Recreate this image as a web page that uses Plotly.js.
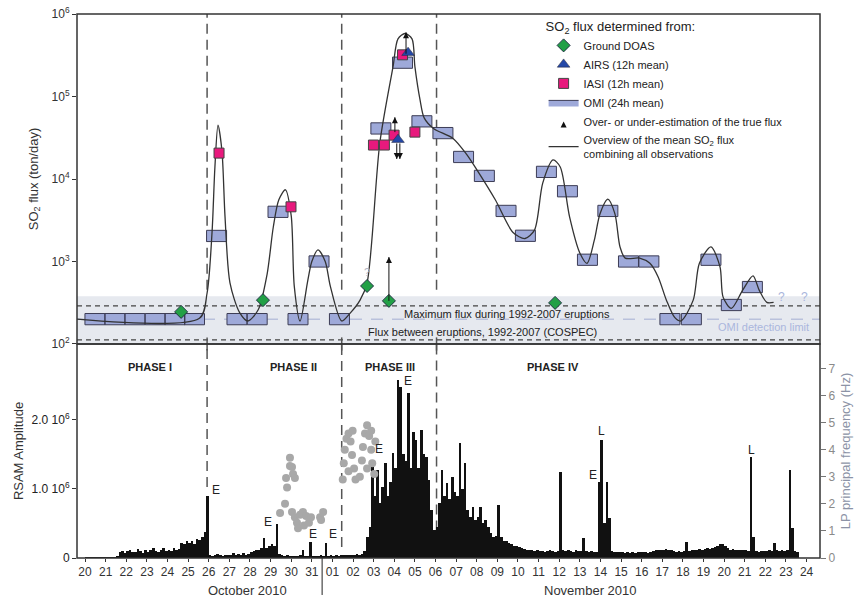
<!DOCTYPE html>
<html><head><meta charset="utf-8">
<script src="https://cdn.plot.ly/plotly-3.0.1.min.js"></script>
<style>html,body{margin:0;padding:0;background:#fff}#chart{width:865px;height:597px}</style>
</head><body><div id="chart"></div>
<script>
// ---------- x axis (days from 20 Oct 2010) ----------
const dayLabels = ['20','21','22','23','24','25','26','27','28','29','30','31',
  '01','02','03','04','05','06','07','08','09','10','11','12','13','14','15','16','17','18','19','20','21','22','23','24'];

// ---------- top panel: SO2 flux (ton/day) ----------
const omiX = [0.48,1.45,2.42,3.4,4.36,5.31,6.38,7.37,8.35,9.36,10.33,11.35,12.34,14.35,15.4,16.34,17.36,18.36,19.37,20.42,21.36,22.38,23.4,24.37,25.36,26.36,27.35,28.37,29.41,30.36,31.35,32.37];
const omiV = [200,200,200,200,200,200,2040,200,200,4000,200,1000,200,41000,257000,50000,36000,18500,10900,4100,2050,12200,7100,1050,4100,1000,1000,200,200,1050,297,490];
const iasiX = [6.5,9.99,13.99,14.52,14.99,16.0,15.4];
const iasiV = [20600,4600,25800,25800,34000,37000,320000];
const airsX = [15.18,15.67];
const airsV = [30000,340000];
const doasX = [4.66,8.63,13.68,14.74,22.8];
const doasV = [245,340,505,333,315];
const curveX = [-0.39,5.55,5.92,6.16,6.3,6.45,6.64,6.79,7.03,7.5,7.9,8.4,8.83,9.13,9.4,9.72,10.0,10.15,10.43,10.81,11.0,11.3,11.65,11.9,12.45,12.85,13.34,13.68,14.3,14.94,15.18,15.52,15.86,16.0,16.25,16.45,16.9,17.85,18.5,19.0,19.9,20.76,21.34,21.8,22.2,22.7,23.05,23.5,24.0,24.35,24.7,24.98,25.36,25.7,25.95,26.2,26.9,27.4,27.8,28.2,28.6,28.9,29.5,29.8,30.36,30.8,30.95,31.35,31.9,32.4,32.7,33.07,33.4];
const curveV = [200,205,415,2250,14000,45000,22000,3500,550,240,190,260,700,2600,5600,7400,3600,500,190,600,1000,1380,1000,500,190,235,340,550,27500,230000,500000,580000,500000,230000,91000,55000,41000,31000,20000,13000,5600,2250,1900,2400,8900,17000,14000,3500,1270,950,1800,3800,5700,3800,1500,1100,1100,950,650,340,210,190,340,950,1500,860,370,270,450,670,450,320,320];
const arrowX = [14.74,15.57,15.03,15.12,15.27];
const arrowFrom = [333,330000,37000,27000,27000];
const arrowTo = [1130,600000,56000,17500,17500];
const maxEruptFlux = 290, interEruptFlux = 112, omiLimit = 200, bandTop = 380, bandBottom = 100;

// ---------- bottom panel ----------
// RSAM amplitude (units of 10^6), 8 samples per day from 20 Oct
const rsam = [
 0.02,0.02,0.02,0.02,0.02,0.02,0.02,0.02,
 0.02,0.02,0.02,0.02,0.03,0.08,0.10,0.07,
 0.10,0.12,0.08,0.09,0.13,0.10,0.07,0.11,
 0.09,0.12,0.14,0.10,0.08,0.12,0.15,0.10,
 0.12,0.10,0.14,0.11,0.13,0.22,0.20,0.24,
 0.22,0.25,0.20,0.27,0.26,0.30,0.38,0.90,
 0.05,0.03,0.04,0.06,0.04,0.03,0.05,0.04,
 0.05,0.07,0.04,0.06,0.05,0.07,0.05,0.06,
 0.08,0.10,0.12,0.11,0.14,0.29,0.15,0.18,
 0.20,0.17,0.49,0.06,0.04,0.03,0.04,0.03,
 0.03,0.03,0.03,0.04,0.12,0.03,0.03,0.23,
 0.03,0.03,0.03,0.04,0.03,0.22,0.03,0.04,
 0.03,0.04,0.03,0.04,0.05,0.04,0.04,0.05,
 0.05,0.06,0.05,0.06,0.10,0.30,0.45,1.39,
 0.90,1.27,0.80,1.03,1.38,0.90,1.10,1.52,
 1.30,2.58,2.48,1.50,1.40,2.39,1.30,1.83,
 1.71,1.30,1.86,1.50,1.46,1.13,0.70,0.40,
 0.45,0.80,1.27,0.90,1.09,0.85,1.17,0.95,
 0.90,1.67,1.00,1.38,0.70,0.60,0.74,0.55,
 0.60,0.74,0.50,0.55,0.45,0.36,0.30,0.32,
 0.77,0.30,0.25,0.24,0.22,0.20,0.18,0.17,
 0.16,0.15,0.13,0.12,0.12,0.11,0.10,0.11,
 0.10,0.10,0.09,0.10,0.11,0.10,0.09,0.10,
 1.25,0.12,0.10,0.11,0.10,0.09,0.12,0.10,
 0.10,0.29,0.10,0.08,0.10,0.09,0.08,1.10,
 1.71,0.50,1.10,0.58,0.10,0.08,0.09,0.08,
 0.08,0.07,0.08,0.07,0.08,0.07,0.09,0.08,
 0.09,0.08,0.07,0.08,0.10,0.12,0.11,0.12,
 0.12,0.13,0.11,0.12,0.10,0.09,0.10,0.09,
 0.10,0.23,0.10,0.12,0.11,0.12,0.13,0.12,
 0.13,0.14,0.13,0.15,0.16,0.18,0.20,0.20,
 0.17,0.14,0.12,0.13,0.12,0.11,0.12,0.12,
 0.11,0.10,1.46,0.30,0.10,0.09,0.10,0.10,
 0.10,0.11,0.10,0.22,0.12,0.10,0.11,0.10,
 0.12,1.28,0.43,0.10,0.08
];
// LP principal frequency (Hz)
const lpX = [9.46,9.7,9.75,9.8,9.94,9.94,10.04,10.09,10.18,
  10.04,10.18,10.28,10.43,10.57,10.72,10.86,10.96,10.33,10.62,11.4,11.45,11.55,
  12.5,12.55,12.6,12.68,12.78,12.88,12.95,13.05,13.12,12.78,12.98,
  13.33,13.43,13.48,13.58,13.68,13.78,13.88,13.93,14.03,13.68,13.88,14.08];
const lpHz = [1.66,2.0,2.95,2.6,3.4,3.7,3.36,3.1,2.95,
  1.7,1.5,1.3,1.6,1.7,1.55,1.3,1.5,1.1,1.2,1.5,1.4,1.7,
  2.9,3.5,4.0,4.4,4.6,4.3,3.8,3.3,2.9,3.2,4.7,
  3.0,3.6,4.1,4.6,4.9,4.5,4.0,3.5,3.1,3.3,4.7,4.3];
const phaseX = [5.92, 12.45, 17.05];
const phaseBottomEnd = [1.03, 0.16, 0.40];
const phaseNames = ['PHASE I','PHASE II','PHASE III','PHASE IV'];
const phaseLabelX = [3.15, 10.1, 14.8, 22.7];
const eventText = ['E','E','E','E','E','E','E','L','L'];
const eventX = [6.35,8.87,11.06,12.03,14.26,15.66,24.64,25.07,32.35];
const eventY = [0.99,0.52,0.35,0.35,1.58,2.57,1.2,1.84,1.57];

const XR = [-0.39, 35.65];
const FONT = 'Liberation Sans, Arial, sans-serif';

// build OMI boxes (1-day wide)
const bw = 0.97, bf = 1.17;
const omiPX = [], omiPY = [];
omiX.forEach((c,i)=>{const v=omiV[i];
  omiPX.push(c-bw/2,c+bw/2,c+bw/2,c-bw/2,c-bw/2,null);
  omiPY.push(v/bf,v/bf,v*bf,v*bf,v/bf,null);});
const shX = [], shY = [];
arrowX.forEach((x,i)=>{shX.push(x,x,null); shY.push(arrowFrom[i],arrowTo[i],null);});
const tipSym = arrowX.map((x,i)=>arrowTo[i]>arrowFrom[i]?'arrow-up':'arrow-down');

const rsamX = rsam.map((v,i)=>i/8+1/16);

const traces = [
 {x:[XR[0],XR[1],XR[1],XR[0],XR[0]], y:[bandTop,bandTop,bandBottom,bandBottom,bandTop], xaxis:'x', yaxis:'y2',
  mode:'lines', fill:'toself', fillcolor:'#e6e9ef', line:{width:0}, showlegend:false, hoverinfo:'skip'},
 {x:XR, y:[omiLimit,omiLimit], xaxis:'x', yaxis:'y2', mode:'lines', line:{color:'#b9c1dc',width:1.5,dash:'12px,9px'}, showlegend:false},
 {x:XR, y:[maxEruptFlux,maxEruptFlux], xaxis:'x', yaxis:'y2', mode:'lines', line:{color:'#444',width:1.3,dash:'5px,4px'}, showlegend:false},
 {x:XR, y:[interEruptFlux,interEruptFlux], xaxis:'x', yaxis:'y2', mode:'lines', line:{color:'#444',width:1.3,dash:'5px,4px'}, showlegend:false},
 {x:omiPX, y:omiPY, xaxis:'x', yaxis:'y2', mode:'lines', fill:'toself', fillcolor:'#9ea9d9', line:{color:'#3c3c55',width:1},
  name:'OMI (24h mean)', legendrank:4},
 {x:curveX, y:curveV, xaxis:'x', yaxis:'y2', mode:'lines', line:{color:'#333',width:1.3,shape:'spline',smoothing:0.8},
  name:'Overview of the mean SO<sub>2</sub> flux<br>combining all observations', legendrank:6},
 {x:iasiX, y:iasiV, xaxis:'x', yaxis:'y2', mode:'markers', marker:{symbol:'square',size:10,color:'#e8197d',line:{color:'#444',width:1}},
  name:'IASI (12h mean)', legendrank:3},
 {x:airsX, y:airsV, xaxis:'x', yaxis:'y2', mode:'markers', marker:{symbol:'triangle-up',size:11,color:'#2448a8',line:{color:'#223',width:0.5}},
  name:'AIRS (12h mean)', legendrank:2},
 {x:doasX, y:doasV, xaxis:'x', yaxis:'y2', mode:'markers', marker:{symbol:'diamond',size:10,color:'#22a046',line:{color:'#234',width:1}},
  name:'Ground DOAS', legendrank:1},
 {x:shX, y:shY, xaxis:'x', yaxis:'y2', mode:'lines', line:{color:'#111',width:1}, showlegend:false},
 {x:arrowX, y:arrowTo, xaxis:'x', yaxis:'y2', mode:'markers', marker:{symbol:tipSym,size:6,color:'#111'},
  name:'Over- or under-estimation of the true flux', legendrank:5},
 {x:rsamX, y:rsam, xaxis:'x', yaxis:'y', type:'bar', width:0.125, marker:{color:'#111',line:{width:0}}, showlegend:false},
 {x:lpX, y:lpHz, xaxis:'x', yaxis:'y3', mode:'markers', marker:{color:'#a8a8a8',size:8}, showlegend:false}
];

const ann = [];
phaseNames.forEach((t,i)=>ann.push({x:phaseLabelX[i], y:2.77, xref:'x', yref:'y', text:'<b>'+t+'</b>', showarrow:false, font:{size:11,color:'#222'}}));
eventText.forEach((t,i)=>ann.push({x:eventX[i], y:eventY[i], xref:'x', yref:'y', text:t, showarrow:false, font:{size:12,color:'#222'}}));
ann.push({x:20.47, y:Math.log10(231), xref:'x', yref:'y2', text:'Maximum flux during 1992-2007 eruptions', showarrow:false, font:{size:11,color:'#222'}});
ann.push({x:19.3, y:Math.log10(140), xref:'x', yref:'y2', text:'Flux between eruptions, 1992-2007 (COSPEC)', showarrow:false, font:{size:11,color:'#222'}});
ann.push({x:32.93, y:Math.log10(161), xref:'x', yref:'y2', text:'OMI detection limit', showarrow:false, font:{size:11,color:'#aab6dd'}});
ann.push({x:13.68, y:Math.log10(740), xref:'x', yref:'y2', text:'?', showarrow:false, font:{size:11,color:'#b0b4c4'}});
ann.push({x:33.8, y:Math.log10(372), xref:'x', yref:'y2', text:'?', showarrow:false, font:{size:12,color:'#aab6dd'}});
ann.push({x:34.92, y:Math.log10(372), xref:'x', yref:'y2', text:'?', showarrow:false, font:{size:12,color:'#aab6dd'}});
ann.push({x:7.86, y:-0.059, xref:'x', yref:'paper', yanchor:'middle', xanchor:'center', text:'October 2010', showarrow:false, font:{size:13,color:'#333'}});
ann.push({x:24.5, y:-0.059, xref:'x', yref:'paper', yanchor:'middle', xanchor:'center', text:'November 2010', showarrow:false, font:{size:13,color:'#333'}});

const shapes = [];
phaseX.forEach((x,i)=>{
  shapes.push({type:'line', xref:'x', yref:'y2 domain', x0:x, x1:x, y0:0.164, y1:1, line:{color:'#555',width:1.5,dash:'10px,6px'}, layer:'below'});
  shapes.push({type:'line', xref:'x', yref:'y2 domain', x0:x, x1:x, y0:-0.02, y1:0.02, line:{color:'#555',width:1.5}});
  shapes.push({type:'line', xref:'x', yref:'y', x0:x, x1:x, y0:phaseBottomEnd[i], y1:3.1, line:{color:'#555',width:1.5,dash:'10px,6px'}, layer:'below'});
});
shapes.push({type:'line', xref:'x', yref:'paper', x0:11.5, x1:11.5, y0:0, y1:-0.068, line:{color:'#222',width:1}});
shapes.push({type:'rect', xref:'paper', yref:'y2 domain', x0:0, x1:1, y0:0, y1:1, line:{color:'#333',width:1.5}});
shapes.push({type:'rect', xref:'paper', yref:'y domain', x0:0, x1:1, y0:0, y1:1, line:{color:'#333',width:1.5}});

const layout = {
  width:865, height:597, margin:{l:77,r:45,t:14,b:39}, paper_bgcolor:'#fff', plot_bgcolor:'rgba(0,0,0,0)',
  font:{family:FONT, size:12, color:'#222'}, bargap:0,
  xaxis:{range:XR, domain:[0,1], anchor:'y', tickvals:dayLabels.map((d,i)=>i), ticktext:dayLabels,
    ticks:'outside', ticklen:3, tickcolor:'#333', tickfont:{size:12,color:'#333'}, showgrid:false, zeroline:false, showline:false, automargin:false},
  yaxis:{domain:[0,0.3934], range:[0,3.1], tickvals:[0,1,2], ticktext:['0','1.0 10<sup>6</sup>','2.0 10<sup>6</sup>'],
    ticks:'outside', ticklen:4, tickcolor:'#333', showgrid:false, zeroline:false, automargin:false,
    title:{text:'RSAM Amplitude', font:{size:13,color:'#333'}, standoff:4}},
  yaxis3:{overlaying:'y', side:'right', anchor:'x', range:[0,7.9], dtick:1, ticks:'outside', ticklen:5, tickcolor:'#777',
    tickfont:{color:'#8a8a8a',size:12}, showgrid:false, zeroline:false, automargin:false,
    title:{text:'LP principal frequency (Hz)', font:{size:13,color:'#8c93a6'}, standoff:6}},
  yaxis2:{domain:[0.3934,1], anchor:'x', type:'log', range:[2,6], tickvals:[100,1000,10000,100000,1000000],
    ticktext:['10<sup>2</sup>','10<sup>3</sup>','10<sup>4</sup>','10<sup>5</sup>','10<sup>6</sup>'],
    ticks:'outside', ticklen:4, tickcolor:'#333', tickfont:{size:12,color:'#333'}, showgrid:false, zeroline:false, automargin:false,
    title:{text:'SO<sub>2</sub> flux (ton/day)', font:{size:13,color:'#333'}, standoff:10}},
  legend:{x:0.628, y:1.0, xanchor:'left', yanchor:'top', bgcolor:'rgba(255,255,255,0)', font:{size:11,color:'#222'},
    title:{text:'SO<sub>2</sub> flux determined from:', font:{size:13,color:'#222'}}, tracegroupgap:0, itemwidth:30},
  annotations:ann, shapes:shapes
};
Plotly.newPlot('chart', traces, layout, {displayModeBar:false, staticPlot:true});
</script></body></html>
